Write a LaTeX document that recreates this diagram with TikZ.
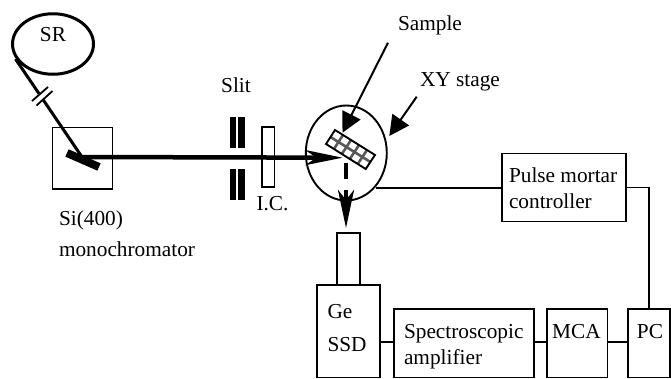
\documentclass[tikz,border=0pt]{standalone}
\usepackage{fontspec}
\setmainfont{Liberation Serif}
\usetikzlibrary{arrows.meta,calc,shapes.geometric}
\tikzset{
  x=1pt,y=-1pt,
  every node/.style={inner sep=0pt,outer sep=0pt},
  txt/.style={font=\fontsize{21.3}{26}\selectfont,anchor=base west},
  txtc/.style={font=\fontsize{21.3}{26}\selectfont,anchor=base},
  boxn/.style={draw,line width=1.9pt,anchor=north west},
  wire/.style={line width=1.9pt},
  beam/.style={line width=4.5pt},
  slitbar/.style={fill=black},
  pointer/.style={line width=2pt,-{Stealth[length=20pt,width=20pt,inset=0pt]}},
}
\begin{document}
\begin{tikzpicture}
\useasboundingbox (0,0) rectangle (671,378);
\node[draw,ellipse,line width=3pt,minimum width=81pt,minimum height=60.5pt] (sr) at (53,44) {};
\node[txtc] (srt) at (53,41.5) {SR};
\coordinate (srout) at (15.5,59);
\coordinate (mirc) at (82,157);
\node[boxn,minimum width=60pt,minimum height=61.5pt] (mono) at (52.5,127.5) {};
\draw[line width=8pt] (67,153) coordinate (m1) -- (99,167) coordinate (m2);
\draw[line width=3pt] (srout) -- (mirc);
\draw[line width=7.5pt,white] (34.5,103) coordinate (sa) -- (50,89) coordinate (sb);
\draw[line width=1.8pt] (32,101) coordinate (s1) -- (48,87) coordinate (s2);
\draw[line width=1.8pt] (36.5,105.5) coordinate (s3) -- (52.5,91) coordinate (s4);
\node[txt] (si) at (59,225) {Si(400)};
\node[txt] (mono1) at (59,256) {monochromator};
\node[slitbar,minimum width=6.5pt,minimum height=31pt,anchor=north west] (sl1) at (229.5,117) {};
\node[slitbar,minimum width=6.5pt,minimum height=31pt,anchor=north west] (sl2) at (238,117) {};
\node[slitbar,minimum width=6.5pt,minimum height=31pt,anchor=north west] (sl3) at (229.5,169) {};
\node[slitbar,minimum width=6.5pt,minimum height=31pt,anchor=north west] (sl4) at (238,169) {};
\node[txtc] (slit) at (236,92) {Slit};
\node[boxn,minimum width=12.5pt,minimum height=60pt] (ic) at (262,127) {};
\node[txtc] (ict) at (272.5,210) {I.C.};
\node[draw,ellipse,line width=1.9pt,minimum width=81pt,minimum height=95pt] (stage) at (346.3,153) {};
\coordinate (a) at (335,130);
\coordinate (b) at (375,155);
\coordinate (c) at (365.7,169);
\coordinate (d) at (326,144);
\foreach \t in {.2,.4,.6,.8}
  \draw[line width=2.6pt,black!65] ($(a)!\t!(b)$) -- ($(d)!\t!(c)$);
\draw[line width=2.6pt,black!65] ($(a)!.5!(d)$) -- ($(b)!.5!(c)$);
\draw[line width=1.9pt] (a) -- (b) -- (c) -- (d) -- cycle;
\coordinate (sampin) at (342.5,157.7);
\draw[beam,-{Stealth[length=37pt,width=15pt,inset=11pt]}] (mirc) -- (sampin);
\draw[line width=4.5pt] (346,163) coordinate (v1) -- (346,179) coordinate (v2);
\coordinate (dettip) at (346,228);
\draw[line width=4.5pt,-{Stealth[length=38pt,width=16pt,inset=10pt]}] (346,190) coordinate (v3) -- (dettip);
\node[txt] (samplet) at (398,30) {Sample};
\coordinate (p1) at (388,42.7);
\coordinate (p1e) at (342.5,132.7);
\draw[pointer] (p1) -- (p1e);
\node[txt] (xy) at (420,86) {XY stage};
\coordinate (p2) at (416.7,96.7);
\coordinate (p2e) at (389.3,136);
\draw[pointer] (p2) -- (p2e);
\node[boxn,minimum width=124pt,minimum height=68pt] (pulse) at (501.7,153.5) {};
\node[txt] (pt1) at (509,182) {Pulse mortar};
\node[txt] (pt2) at (509,208) {controller};
\node[boxn,minimum width=23.5pt,minimum height=52pt] (neck) at (336.7,233.3) {};
\node[boxn,minimum width=63.5pt,minimum height=92.5pt] (ssd) at (316.7,285) {};
\node[txt] (ge) at (327.5,318) {Ge};
\node[txt] (ssdt) at (327.5,351) {SSD};
\node[boxn,minimum width=139.5pt,minimum height=68.5pt] (amp) at (394.3,309) {};
\node[txt] (a1) at (404,338) {Spectroscopic};
\node[txt] (a2) at (404,364) {amplifier};
\node[boxn,minimum width=60.5pt,minimum height=68.5pt] (mca) at (547,309) {};
\node[txtc] (mcat) at (576.5,338) {MCA};
\node[boxn,minimum width=42pt,minimum height=68.5pt] (pc) at (628,309) {};
\node[txtc] (pct) at (650,338) {PC};
\coordinate (bus) at (0,341.7);
\draw[wire] (ssd.east |- bus) -- (amp.west |- bus);
\draw[wire] (amp.east |- bus) -- (mca.west |- bus);
\draw[wire] (mca.east |- bus) -- (pc.west |- bus);
\coordinate (stageout) at (376,187.6);
\draw[wire] (stageout) -- (pulse.west |- stageout);
\draw[wire] (pulse.east) -- (pc.north |- pulse.east) -- (pc.north);
\end{tikzpicture}
\end{document}
